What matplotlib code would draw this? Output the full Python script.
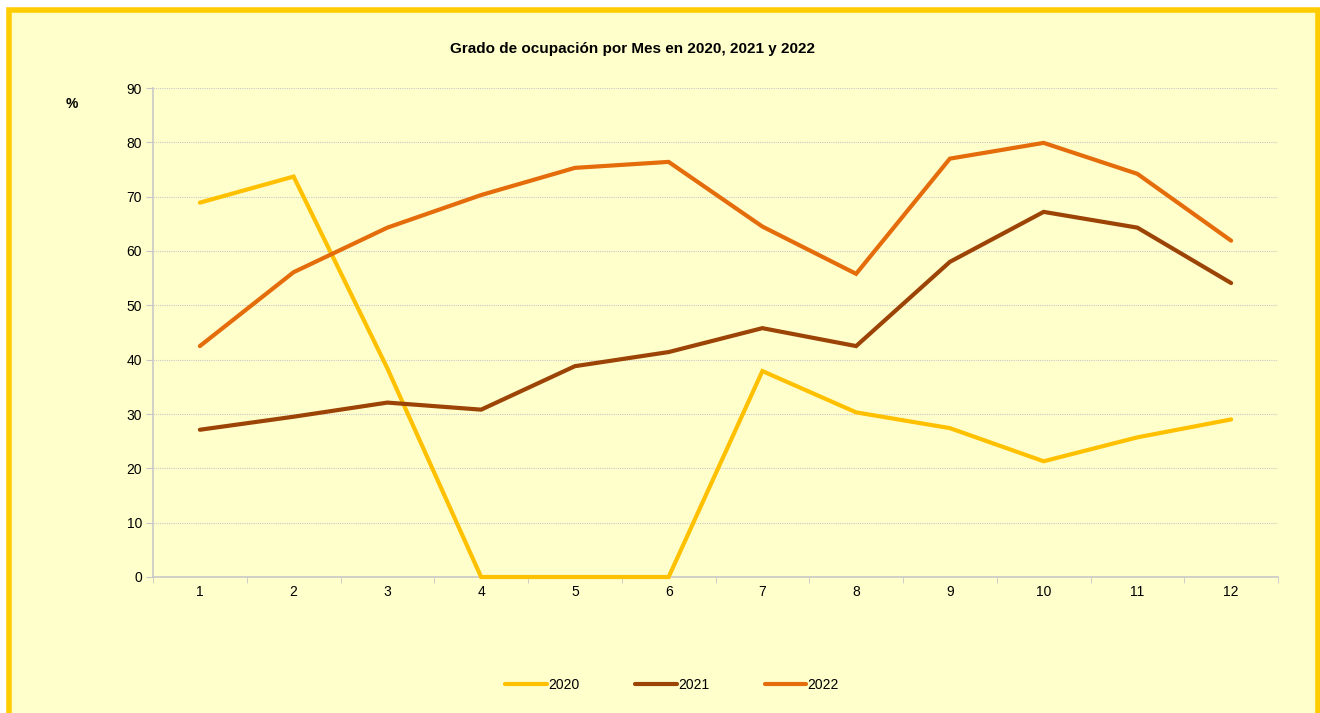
import matplotlib.pyplot as plt
from matplotlib.patches import Rectangle
from matplotlib.ticker import MultipleLocator

plt.rcParams['font.family'] = ['Liberation Sans', 'DejaVu Sans']

# datos
meses = list(range(1, 13))
ocup_2020 = [68.9, 73.7, 38.4, 0, 0, 0, 37.9, 30.3, 27.4, 21.3, 25.7, 29.0]
ocup_2021 = [27.1, 29.5, 32.1, 30.8, 38.8, 41.4, 45.8, 42.5, 58.0, 67.2, 64.3, 54.1]
ocup_2022 = [42.5, 56.1, 64.3, 70.3, 75.3, 76.4, 64.5, 55.8, 77.0, 79.9, 74.2, 61.9]
etiquetas = ['2020', '2021', '2022']
colores = ['#FFC000', '#9C4306', '#E46C0A']

fig = plt.figure(figsize=(13.2, 7.13), dpi=100)
fig.patch.set_facecolor('white')

# marco amarillo del gráfico
marco = Rectangle((9 / 1320, -0.05), 1308.5 / 1320, 1.05 - 10.5 / 713,
                  transform=fig.transFigure, facecolor='#FFFFCC',
                  edgecolor='#FFCC00', linewidth=4, zorder=-10)
fig.patches.append(marco)

ax = fig.add_axes([153 / 1320, 1 - 577 / 713, 1125 / 1320, 489 / 713])
ax.set_facecolor('none')

for serie, etq, col in zip([ocup_2020, ocup_2021, ocup_2022], etiquetas, colores):
    ax.plot(meses, serie, color=col, linewidth=3, label=etq, zorder=3,
            clip_on=False, solid_capstyle='round', solid_joinstyle='miter')

ax.set_xlim(0.5, 12.5)
ax.set_ylim(0, 90)
ax.yaxis.set_major_locator(MultipleLocator(10))
ax.set_xticks(meses)
ax.set_xticks([m + 0.5 for m in range(0, 13)], minor=True)
ax.tick_params(axis='x', which='major', length=0, pad=6, labelsize=10)
ax.tick_params(axis='x', which='minor', length=4, color='#C8C8C8', direction='out')
ax.tick_params(axis='y', length=5, color='#C8C8C8', labelsize=10, pad=3)

ax.grid(axis='y', color='#C8C8C8', linestyle=(0, (1, 1)), linewidth=0.8)
ax.set_axisbelow(True)
for lado in ['top', 'right']:
    ax.spines[lado].set_visible(False)
for lado in ['left', 'bottom']:
    ax.spines[lado].set_color('#C8C8C8')
    ax.spines[lado].set_linewidth(1.2)

fig.text(632 / 1320, 1 - 49 / 713, 'Grado de ocupación por Mes en 2020, 2021 y 2022',
         ha='center', va='center', fontsize=11, fontweight='bold')
fig.text(72 / 1320, 1 - 104 / 713, '%', ha='center', va='center',
         fontsize=10, fontweight='bold')

fig.legend(loc='center', bbox_to_anchor=(672 / 1320, 1 - 685 / 713), ncol=3,
           frameon=False, fontsize=10, handlelength=3.0, handletextpad=0.1,
           columnspacing=4.0)

plt.savefig('out.png', dpi=100, facecolor=fig.get_facecolor())
